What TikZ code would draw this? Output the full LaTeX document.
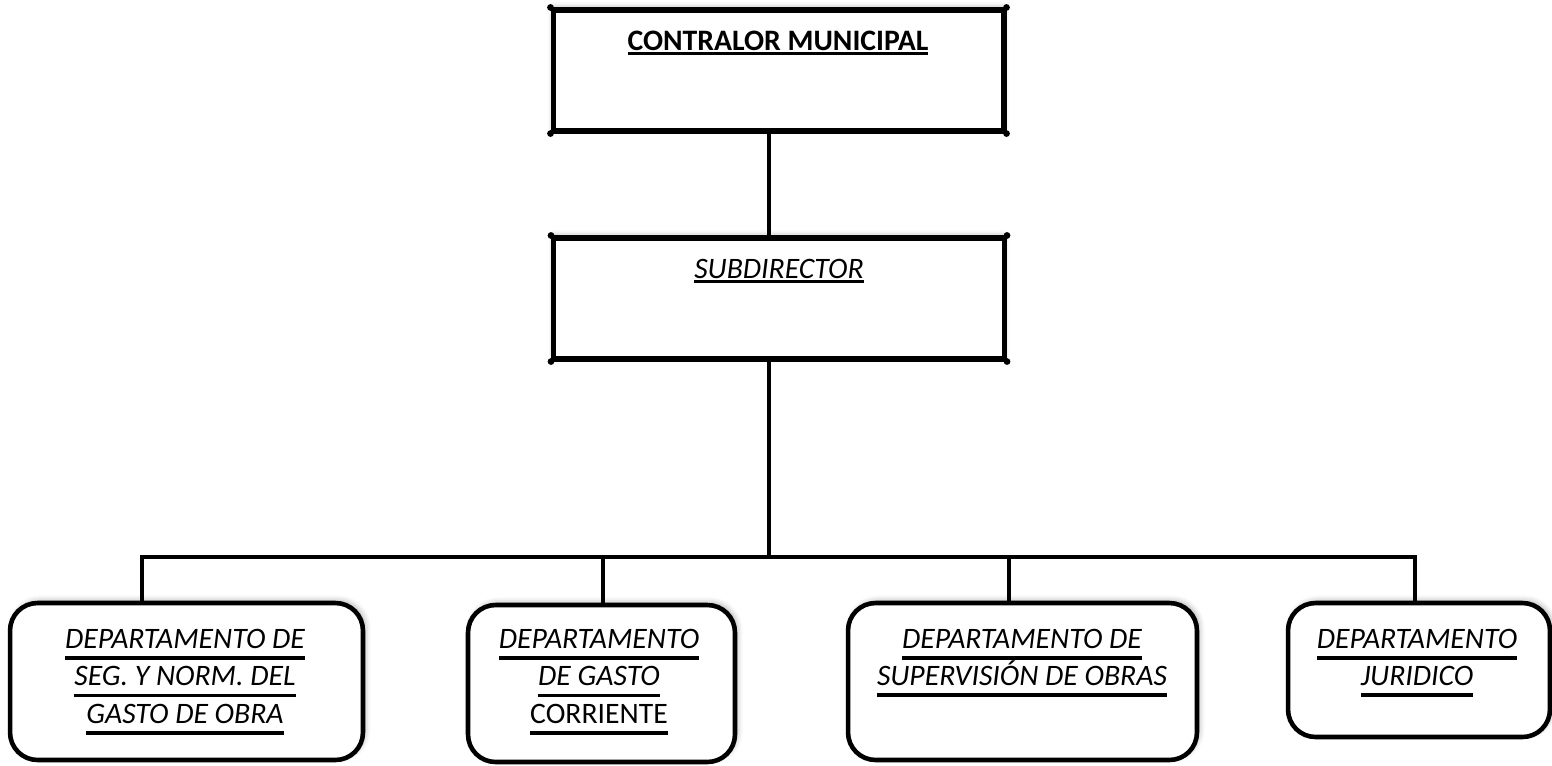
\documentclass[tikz,border=0pt]{standalone}
\usepackage{fontspec}
\setmainfont{Carlito}
\usepackage{tikz}
\usetikzlibrary{shadows.blur}
% thick underline for the box titles
\newcommand{\ulw}[1]{\setbox0\hbox{#1}\rlap{\rule[-6.6pt]{\wd0}{2.1pt}}\box0}
\newcommand{\ulthin}[1]{\setbox0\hbox{#1}\rlap{\rule[-2.8pt]{\wd0}{1.6pt}}\box0}

\begin{document}
\begin{tikzpicture}[x=0.02cm, y=-0.02cm,
  boss/.style={draw, line width=2.9pt, minimum width=9.02cm, minimum height=2.42cm,
    fill=white, blur shadow={shadow xshift=0pt, shadow yshift=1.5pt, shadow opacity=30, shadow blur radius=3pt}},
  dept/.style={draw, line width=2.6pt, rounded corners=0.55cm, minimum height=3.14cm,
    fill=white, blur shadow={shadow xshift=1.5pt, shadow yshift=1.5pt, shadow opacity=30, shadow blur radius=3pt}},
  title/.style={inner sep=0pt, align=center, font=\fontsize{16.9}{21.3}\selectfont},
  wire/.style={line width=2.7pt}]
  \useasboundingbox (0,0) rectangle (1552,765);
  % head boxes
  \node[boss] (contralor) at (778.5,70.5) {};
  \node[boss] (subdir) at (779,298.5) {};
  \foreach \b in {contralor,subdir}
    \foreach \c in {north west,north east,south west,south east}
      \fill (\b.\c) circle (3.4);
  \node[title, font=\fontsize{16.9}{21.3}\selectfont\bfseries, anchor=base] (contralorT) at (778,50) {\ulthin{CONTRALOR MUNICIPAL}};
  \node[title, font=\fontsize{16.9}{21.3}\selectfont\itshape, anchor=base] (subdirT) at (779,278) {\ulthin{SUBDIRECTOR}};
  % departments
  \node[dept, minimum width=7.06cm] (segnorm) at (186.5,681.5) {};
  \node[dept, minimum width=5.34cm] (gasto) at (601.5,683.5) {};
  \node[dept, minimum width=6.98cm] (superv) at (1022.5,681.5) {};
  \node[dept, minimum width=5.24cm, minimum height=2.68cm] (juridico) at (1419,670) {};
  \node[title, font=\fontsize{16.9}{21.3}\selectfont\itshape] (segnormT) at (185,682)
    {\ulw{DEPARTAMENTO DE}\\ \ulw{SEG. Y NORM. DEL}\\ \ulw{GASTO DE OBRA}};
  \node[title, font=\fontsize{16.9}{21.3}\selectfont\itshape] (gastoT) at (599,682)
    {\ulw{DEPARTAMENTO}\\ \ulw{DE GASTO}\\ \ulw{\upshape CORRIENTE}};
  \node[title, font=\fontsize{16.9}{21.3}\selectfont\itshape] (supervT) at (1022,663)
    {\ulw{DEPARTAMENTO DE}\\ \ulw{SUPERVISIÓN DE OBRAS}};
  \node[title, font=\fontsize{16.9}{21.3}\selectfont\itshape] (juridicoT) at (1417,663)
    {\ulw{DEPARTAMENTO}\\ \ulw{JURIDICO}};
  % wiring
  \coordinate (hub) at (769,557);
  \coordinate (bus1) at (142,557);
  \coordinate (bus2) at (603,557);
  \coordinate (bus3) at (1009,557);
  \coordinate (bus4) at (1415,557);
  \draw[wire] (contralor.south -| hub) -- (subdir.north -| hub);
  \draw[wire] (subdir.south -| hub) -- (hub);
  \draw[wire, line cap=rect] (bus1) -- (bus4);
  \draw[wire] (bus1) -- (bus1 |- segnorm.north);
  \draw[wire] (bus2) -- (bus2 |- gasto.north);
  \draw[wire] (bus3) -- (bus3 |- superv.north);
  \draw[wire] (bus4) -- (bus4 |- juridico.north);
\end{tikzpicture}
\end{document}
